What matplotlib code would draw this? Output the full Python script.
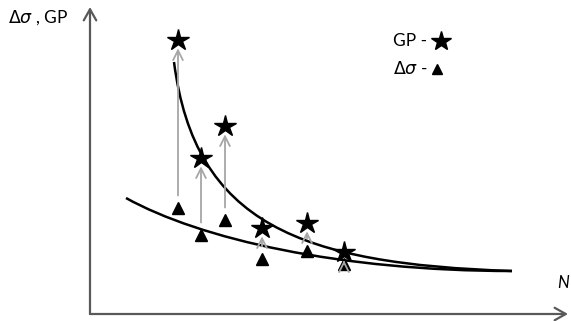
import numpy as np
import matplotlib
matplotlib.use("Agg")
import matplotlib.pyplot as plt
from matplotlib.path import Path
from matplotlib.patches import PathPatch

# test points: fatigue life N, stress range and GP value
n_vals = [88, 111, 135, 172, 217, 254]
gp_vals = [274, 156, 188, 86, 91, 62]
ds_vals = [106, 79, 94, 55, 63, 50]

# trend curves as cubic bezier control points (N, value)
gp_curve = [(84, 252), (105, 90), (210, 50), (422, 43)]
ds_curve = [(36, 116), (110, 75), (250, 43), (422, 43)]

plt.rcParams['font.family'] = ['Lato', 'DejaVu Sans']

fig = plt.figure(figsize=(5.71, 3.21), dpi=100)
ax = fig.add_axes([0, 0, 1, 1])
ax.set_xlim(-90, 481)
ax.set_ylim(-7, 314)
ax.axis("off")

axis_col = "#595959"
ax.annotate("", xy=(0, 307), xytext=(0, 0),
            arrowprops=dict(arrowstyle="->,head_length=0.8,head_width=0.45",
                            color=axis_col, lw=1.6, shrinkA=0, shrinkB=0))
ax.annotate("", xy=(478, 0), xytext=(0, 0),
            arrowprops=dict(arrowstyle="->,head_length=0.8,head_width=0.45",
                            color=axis_col, lw=1.6, shrinkA=0, shrinkB=0))

codes = [Path.MOVETO, Path.CURVE4, Path.CURVE4, Path.CURVE4]
for pts in (gp_curve, ds_curve):
    ax.add_patch(PathPatch(Path(pts, codes), fill=False, lw=1.8, color="black"))

# arrows from stress range up to GP
for n, g, d in zip(n_vals, gp_vals, ds_vals):
    ax.annotate("", xy=(n, g), xytext=(n, d),
                arrowprops=dict(arrowstyle="->,head_length=0.7,head_width=0.35",
                                color="#a6a6a6", lw=1.3, shrinkA=9, shrinkB=6))

ax.plot(n_vals, ds_vals, ls="none", marker="^", ms=9, color="black")
ax.plot(n_vals, gp_vals, ls="none", marker="*", ms=16, color="black")

ax.text(-82, 296, r"$\mathit{\Delta\sigma}$ , GP", fontsize=12.5, va="center", ha="left")
ax.text(303, 273, "GP - ", fontsize=12.5, va="center", ha="left")
ax.plot([351], [273], marker="*", ms=15, color="black")
ax.text(303, 246, r"$\mathit{\Delta\sigma}$ - ", fontsize=12.5, va="center", ha="left")
ax.plot([347], [245], marker="^", ms=7, color="black")
ax.text(473, 31, "N", fontsize=12, style="italic", va="center", ha="center")

fig.savefig("out.png", dpi=100)
